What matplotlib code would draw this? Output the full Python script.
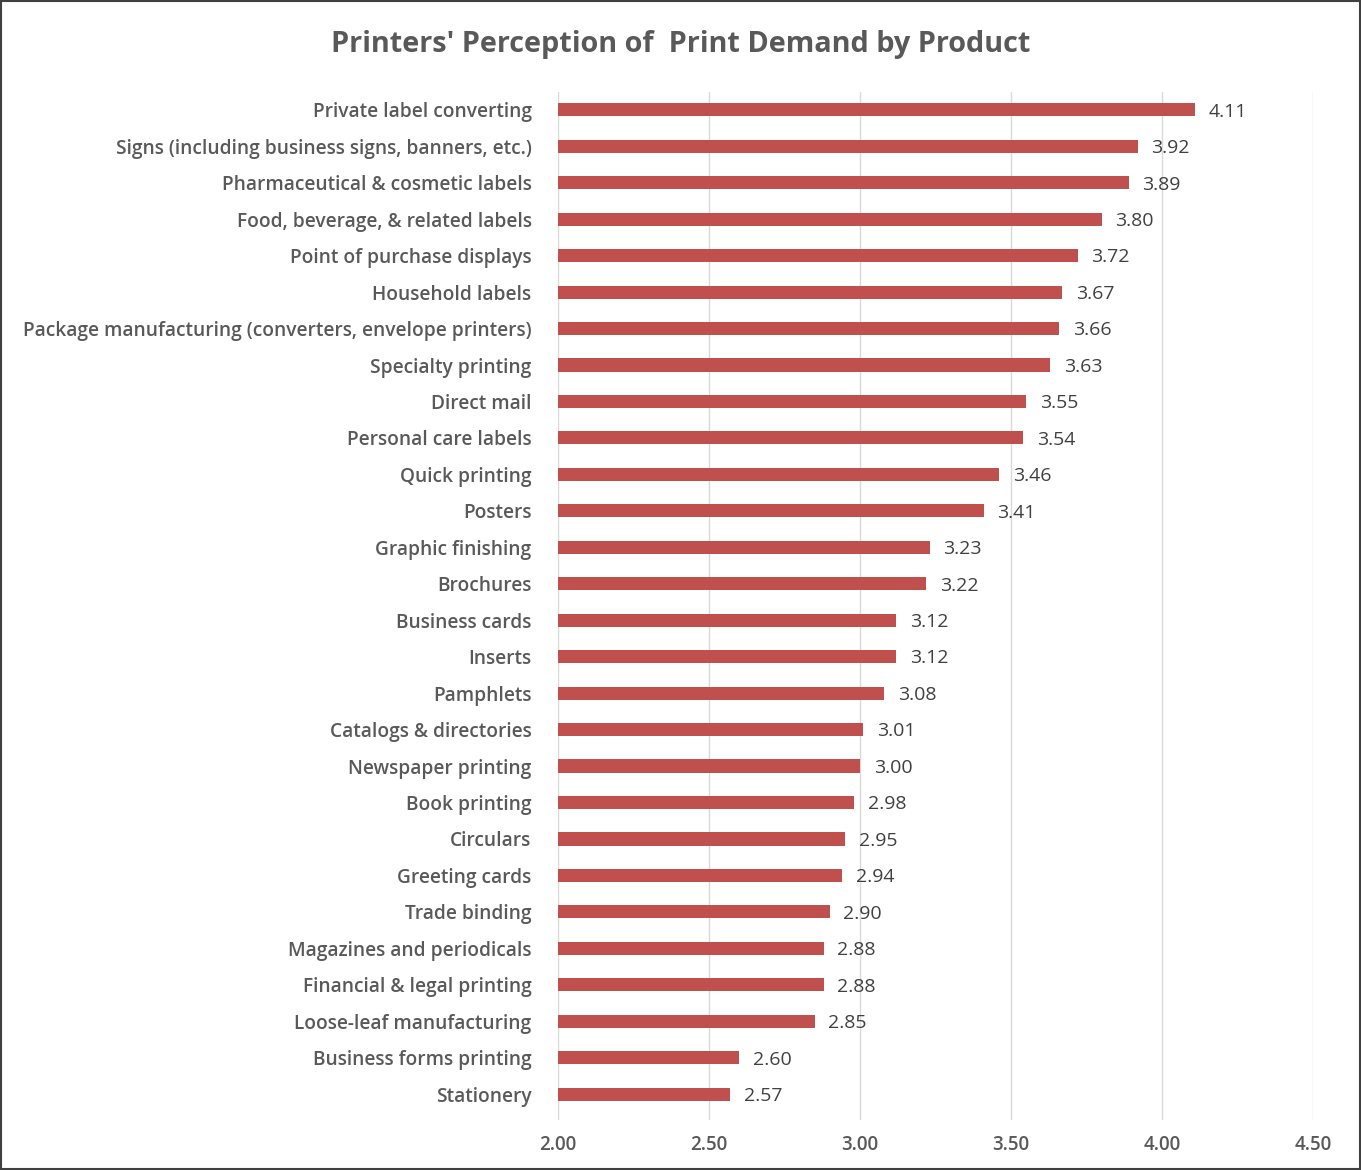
import matplotlib.pyplot as plt
from matplotlib.patches import Rectangle

categories = [
    "Private label converting",
    "Signs (including business signs, banners, etc.)",
    "Pharmaceutical & cosmetic labels",
    "Food, beverage, & related labels",
    "Point of purchase displays",
    "Household labels",
    "Package manufacturing (converters, envelope printers)",
    "Specialty printing",
    "Direct mail",
    "Personal care labels",
    "Quick printing",
    "Posters",
    "Graphic finishing",
    "Brochures",
    "Business cards",
    "Inserts",
    "Pamphlets",
    "Catalogs & directories",
    "Newspaper printing",
    "Book printing",
    "Circulars",
    "Greeting cards",
    "Trade binding",
    "Magazines and periodicals",
    "Financial & legal printing",
    "Loose-leaf manufacturing",
    "Business forms printing",
    "Stationery",
]
scores = [4.11, 3.92, 3.89, 3.80, 3.72, 3.67, 3.66, 3.63, 3.55, 3.54, 3.46,
          3.41, 3.23, 3.22, 3.12, 3.12, 3.08, 3.01, 3.00, 2.98, 2.95, 2.94,
          2.90, 2.88, 2.88, 2.85, 2.60, 2.57]
x_ticks = [2.0, 2.5, 3.0, 3.5, 4.0, 4.5]

plt.rcParams["font.family"] = ["Open Sans", "DejaVu Sans"]

fig = plt.figure(figsize=(13.61, 11.70), dpi=100)
ax = fig.add_axes([0.41, 0.0427, 0.5548, 0.8787])

base = 2.0
ypos = list(range(len(categories)))
ax.barh(ypos, [s - base for s in scores], left=base, height=0.36,
        color="#C0504D", zorder=3)
for y, s in zip(ypos, scores):
    ax.text(s + 0.045, y + 0.05, f"{s:.2f}", va="center", ha="left",
            fontsize=14, color="#404040")

ax.set_xlim(2.0, 4.5)
ax.set_ylim(27.71, -0.49)
ax.set_xticks(x_ticks)
ax.set_xticklabels([f"{t:.2f}" for t in x_ticks], fontsize=13.5,
                   fontweight="semibold", color="#595959")
ax.set_yticks(ypos)
ax.set_yticklabels(categories, fontsize=13.8, fontweight="semibold",
                   color="#595959")
ax.tick_params(axis="both", length=0)
ax.tick_params(axis="x", pad=11)
ax.tick_params(axis="y", pad=19)
ax.grid(axis="x", color="#D9D9D9", linewidth=1, zorder=0)
for sp in ax.spines.values():
    sp.set_visible(False)

fig.text(0.5, 0.962, "Printers' Perception of  Print Demand by Product",
         ha="center", va="center", fontsize=20.8, fontweight="bold",
         color="#595959")

fig.patches.append(Rectangle((0.001, 0.001), 0.998, 0.998,
                             transform=fig.transFigure, fill=False,
                             edgecolor="#404040", linewidth=1.5))

fig.savefig("out.png", dpi=100)
